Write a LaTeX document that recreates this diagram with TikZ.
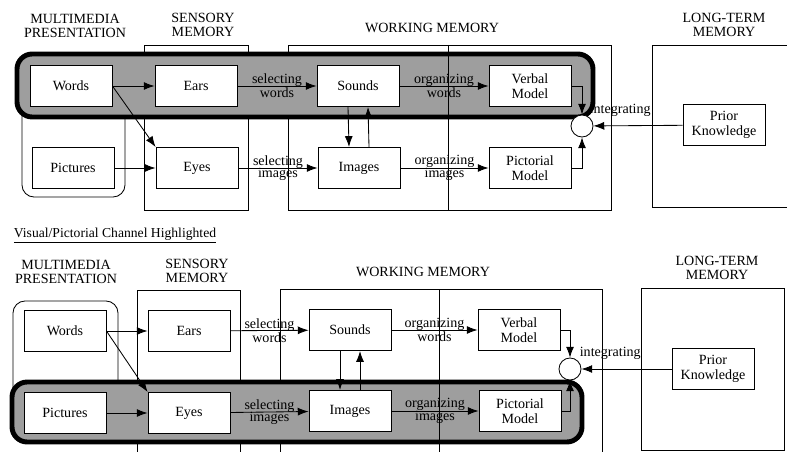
\documentclass[tikz,border=0pt]{standalone}
\usepackage{fontspec}
\setmainfont{Liberation Serif}
\usepackage{tikz}
\usetikzlibrary{arrows.meta, positioning}
\tikzset{
  stagebox/.style={draw, fill=white, align=center, font=\fontsize{10}{11}\selectfont,
                   minimum width=2.05cm, minimum height=1.03cm, inner sep=2pt, line width=0.6pt},
  storebox/.style={draw, line width=0.6pt},
  heading/.style={align=center, font=\fontsize{10}{10.5}\selectfont, inner sep=0pt},
  channel/.style={draw, line width=3.5pt, rounded corners=0.38cm, fill=black!38},
  flowarrow/.style={-{Latex[length=2.7mm, width=2mm]}, line width=0.6pt},
  steplabel/.style={align=center, font=\fontsize{10}{9}\selectfont, inner sep=0pt},
  junction/.style={draw, circle, fill=white, minimum size=0.55cm, inner sep=0pt, line width=0.6pt}
}

\begin{document}
\begin{tikzpicture}[x=0.025cm, y=-0.025cm]
\useasboundingbox (0,0) rectangle (787,452);
\clip (0,0) rectangle (787,452);

% Top panel: verbal channel highlighted
\begin{scope}[name prefix=top-]
% Stores
\draw[storebox, rounded corners=0.3cm] (22,57) rectangle (125,197);
\draw[storebox] (144,45) rectangle (248,210);
\draw[storebox] (288,45) rectangle (611,210);
\draw[storebox] (652,45) rectangle (800,207);
\node[heading] (mmhead) at (75,26) {MULTIMEDIA\\PRESENTATION};
\node[heading] (senshead) at (203,25) {SENSORY\\MEMORY};
\node[heading] (wmhead) at (432,28) {WORKING MEMORY};
\node[heading] (ltmhead) at (724,25) {LONG-TERM\\MEMORY};

% Highlighted channel
\draw[channel] (17,54) rectangle (593,117);
\draw[storebox] (448,45) -- (448,210);

% Boxes
\node[stagebox] (words) at (71,86) {Words};
\node[stagebox] (ears) at (196,86) {Ears};
\node[stagebox] (sounds) at (358,86) {Sounds};
\node[stagebox] (verbal) at (530,86) {Verbal\\Model};
\node[stagebox] (pictures) at (73,168) {Pictures};
\node[stagebox] (eyes) at (197,168) {Eyes};
\node[stagebox] (images) at (359,168) {Images};
\node[stagebox] (pictorial) at (530,168) {Pictorial\\Model};
\node[junction] (join) at (582,126) {};
\node[stagebox] (prior) at (724,125) {Prior\\Knowledge};

% Arrows
\draw[flowarrow] (words) -- (ears);
\draw[flowarrow] (words.east) -- (eyes.north west);
\draw[flowarrow] (pictures) -- (eyes);
\draw[flowarrow] (ears) -- node[steplabel] {selecting\\words} (sounds);
\draw[flowarrow] (eyes) -- node[steplabel] {selecting\\images} (images);
\draw[flowarrow] (sounds) -- node[steplabel] {organizing\\words} (verbal);
\draw[flowarrow] (images) -- node[steplabel] {organizing\\images} (pictorial);
\draw[flowarrow] ([xshift=-0.25cm]sounds.south) -- ([xshift=-0.25cm]images.north);
\draw[flowarrow] ([xshift=0.25cm]images.north) -- ([xshift=0.25cm]sounds.south);
\draw[flowarrow] (verbal.east) -| (join.north);
\draw[flowarrow] (pictorial.east) -| (join.south);
\draw[flowarrow] (prior) -- node[steplabel, pos=0.7, above=0.22cm] {integrating} (join);
\end{scope}

% Bottom panel: visual/pictorial channel highlighted
\node[font=\fontsize{9.7}{11}\selectfont, inner sep=0pt] (title) at (115,236) {\underline{Visual/Pictorial Channel Highlighted}};

\begin{scope}[name prefix=bot-]
% Stores
\draw[storebox, rounded corners=0.3cm] (13,301) rectangle (118,441);
\draw[storebox] (137,290) rectangle (240,456);
\draw[storebox] (280,289) rectangle (602,456);
\draw[storebox] (641,288) rectangle (784,450);
\node[heading] (mmhead) at (66,272) {MULTIMEDIA\\PRESENTATION};
\node[heading] (senshead) at (197,271) {SENSORY\\MEMORY};
\node[heading] (wmhead) at (423,272) {WORKING MEMORY};
\node[heading] (ltmhead) at (717,268) {LONG-TERM\\MEMORY};

% Highlighted channel
\draw[channel] (12,382) rectangle (582,442);
\draw[storebox] (439,289) -- (439,456);

% Boxes
\node[stagebox] (words) at (65,331) {Words};
\node[stagebox] (ears) at (189,331) {Ears};
\node[stagebox] (sounds) at (350,330) {Sounds};
\node[stagebox] (verbal) at (519,330) {Verbal\\Model};
\node[stagebox] (pictures) at (65,413) {Pictures};
\node[stagebox] (eyes) at (189,413) {Eyes};
\node[stagebox] (images) at (350,411) {Images};
\node[stagebox] (pictorial) at (520,411) {Pictorial\\Model};
\node[junction] (join) at (570,369) {};
\node[stagebox] (prior) at (713,369) {Prior\\Knowledge};

% Arrows
\draw[flowarrow] (words) -- (ears);
\draw[flowarrow] (words.east) -- (eyes.north west);
\draw[flowarrow] (pictures) -- (eyes);
\draw[flowarrow] (ears) -- node[steplabel] {selecting\\words} (sounds);
\draw[flowarrow] (eyes) -- node[steplabel] {selecting\\images} (images);
\draw[flowarrow] (sounds) -- node[steplabel] {organizing\\words} (verbal);
\draw[flowarrow] (images) -- node[steplabel] {organizing\\images} (pictorial);
\draw[flowarrow] ([xshift=-0.25cm]sounds.south) -- ([xshift=-0.25cm]images.north);
\draw[flowarrow] ([xshift=0.25cm]images.north) -- ([xshift=0.25cm]sounds.south);
\draw[flowarrow] (verbal.east) -| (join.north);
\draw[flowarrow] (pictorial.east) -| (join.south);
\draw[flowarrow] (prior) -- node[steplabel, pos=0.68, above=0.22cm] {integrating} (join);
\end{scope}

\end{tikzpicture}
\end{document}
